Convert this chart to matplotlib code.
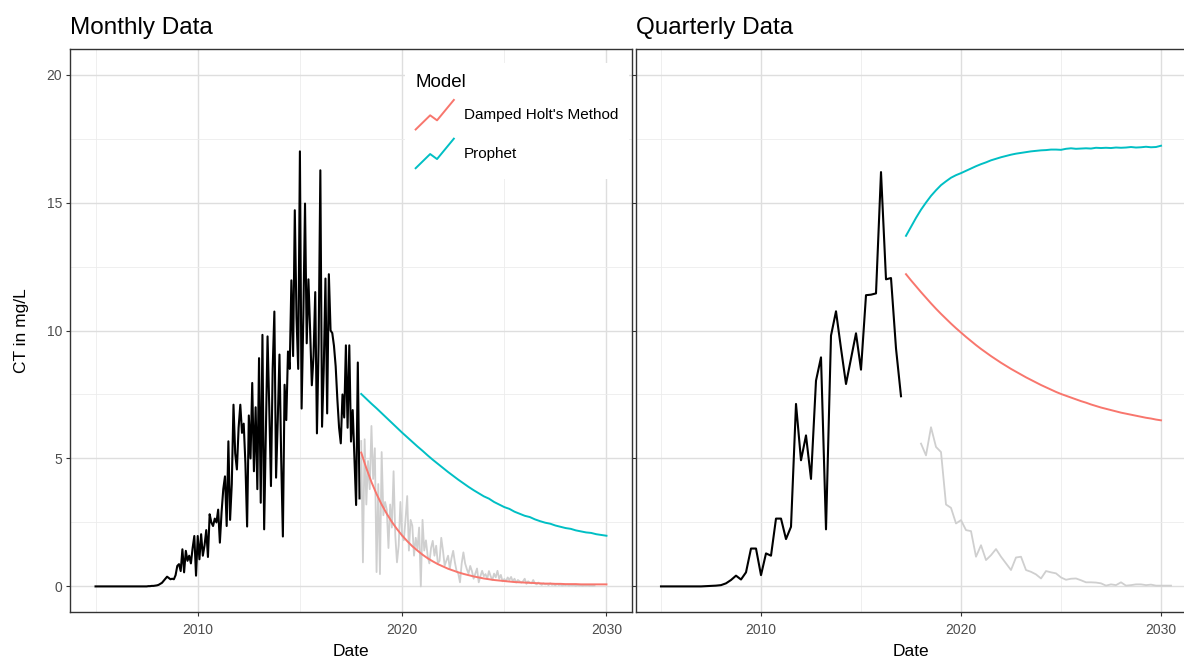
import numpy as np
import matplotlib
matplotlib.use('Agg')
import matplotlib.pyplot as plt
from matplotlib.lines import Line2D
from matplotlib.legend_handler import HandlerBase
from matplotlib.ticker import FixedLocator

plt.rcParams['font.family'] = ['Liberation Sans', 'DejaVu Sans']

# ---- monthly series (CT in mg/L), Jan 2005 .. Dec 2017 ----
monthly_ct = (
    [0.0] * 24
    + [0, 0, 0, 0, 0, 0, 0, 0.01, 0.01, 0.02, 0.02, 0.03]                      # 2007
    + [0.04, 0.06, 0.1, 0.14, 0.22, 0.3, 0.38, 0.33, 0.28, 0.3, 0.28, 0.44]    # 2008
    + [0.8, 0.87, 0.6, 1.45, 0.55, 1.39, 1.0, 1.2, 0.9, 1.5, 1.97, 0.42]       # 2009
    + [1.97, 1.06, 2.04, 1.2, 1.6, 2.2, 1.15, 2.82, 2.5, 2.36, 2.65, 2.5]      # 2010
    + [3.0, 1.71, 2.9, 3.8, 4.3, 2.36, 5.67, 2.6, 4.0, 7.1, 5.2, 4.57]         # 2011
    + [6.2, 7.1, 6.0, 6.36, 4.8, 2.34, 6.68, 5.0, 7.95, 4.5, 7.0, 3.8]         # 2012
    + [8.92, 3.27, 9.83, 2.23, 6.0, 9.77, 7.0, 3.92, 8.5, 10.74, 4.25, 6.5]    # 2013
    + [9.06, 5.0, 1.95, 7.88, 6.5, 9.18, 8.5, 11.96, 9.0, 14.7, 10.5, 8.5]     # 2014
    + [17.0, 6.95, 10.5, 14.96, 9.5, 12.0, 10.0, 7.86, 9.0, 11.5, 5.98, 9.5]   # 2015
    + [16.26, 6.24, 8.5, 12.03, 6.76, 12.2, 10.0, 9.9, 9.4, 8.6, 7.3, 6.2]     # 2016
    + [5.59, 7.5, 6.6, 9.42, 6.2, 9.42, 5.66, 6.89, 5.0, 3.18, 8.75, 3.44]     # 2017
)

# held-out monthly observations, from Jan 2018
monthly_test = (
    [5.68, 0.94, 5.75, 3.2, 4.9, 3.8, 6.27, 4.2, 5.4, 0.56, 4.0, 0.48]
    + [5.25, 2.78, 3.3, 3.0, 1.5, 3.2, 2.3, 4.5, 2.0, 0.94, 1.6, 3.3]
    + [2.0, 1.8, 2.6, 3.53, 1.4, 2.6, 2.37, 1.2, 1.9, 1.46, 2.3, 0.0]
    + [2.6, 1.4, 1.8, 1.2, 0.9, 1.5, 1.78, 1.2, 1.59, 0.9, 1.0, 1.9]
    + [1.4, 0.81, 1.0, 1.2, 0.7, 1.1, 1.39, 0.94, 0.6, 0.5, 0.16, 0.9]
    + [1.33, 0.9, 0.68, 0.5, 0.8, 0.6, 0.3, 0.5, 0.7, 0.16, 0.4, 0.61]
    + [0.4, 0.48, 0.3, 0.6, 0.4, 0.25, 0.5, 0.35, 0.61, 0.3, 0.45, 0.2]
    + [0.29, 0.2, 0.35, 0.25, 0.37, 0.2, 0.3, 0.15, 0.25, 0.2, 0.15, 0.2]
    + [0.3, 0.1, 0.2, 0.15, 0.12, 0.25, 0.12, 0.08, 0.15, 0.1, 0.06, 0.12]
    + [0.08, 0.1, 0.05, 0.12, 0.06, 0.08, 0.04, 0.1, 0.05, 0.07, 0.03, 0.06]
    + [0.05, 0.07, 0.03, 0.06, 0.04, 0.05, 0.02, 0.05, 0.03, 0.04, 0.02, 0.04]
    + [0.03, 0.04, 0.02, 0.03, 0.02, 0.03]
)

# monthly-model forecasts, quarterly steps from 2018.0 to 2030.0
monthly_holt = [5.23, 4.62, 4.08, 3.61, 3.20, 2.84, 2.52, 2.24, 1.99, 1.77,
                1.57, 1.40, 1.24, 1.10, 0.98, 0.87, 0.78, 0.69, 0.62, 0.55,
                0.49, 0.44, 0.39, 0.35, 0.31, 0.28, 0.25, 0.23, 0.21, 0.19,
                0.17, 0.16, 0.15, 0.14, 0.13, 0.12, 0.11, 0.11, 0.10, 0.10,
                0.09, 0.09, 0.09, 0.08, 0.08, 0.08, 0.08, 0.08, 0.08]
monthly_prophet = [7.52, 7.33, 7.14, 6.96, 6.77, 6.58, 6.39, 6.20, 6.01, 5.83,
                   5.65, 5.47, 5.30, 5.12, 4.95, 4.79, 4.63, 4.47, 4.32, 4.17,
                   4.03, 3.89, 3.76, 3.64, 3.52, 3.43, 3.30, 3.20, 3.10, 3.03,
                   2.92, 2.84, 2.76, 2.71, 2.62, 2.55, 2.49, 2.45, 2.38, 2.33,
                   2.28, 2.25, 2.19, 2.15, 2.11, 2.09, 2.04, 2.01, 1.98]

# ---- quarterly series, 2005 Q1 .. 2017 Q1 ----
quarterly_ct = [0, 0, 0, 0, 0, 0, 0, 0, 0, 0.01, 0.02, 0.03,
                0.05, 0.12, 0.25, 0.42, 0.27, 0.55, 1.48, 1.48,
                0.44, 1.29, 1.2, 2.65, 2.65, 1.85, 2.33, 7.13,
                4.93, 5.9, 4.2, 8.04, 8.95, 2.23, 9.8, 10.75,
                9.3, 7.91, 8.9, 9.89, 8.47, 11.38, 11.4, 11.45,
                16.19, 12.0, 12.05, 9.3, 7.43]

# held-out quarterly observations, 2018.0 .. 2030.5
quarterly_test = [5.58, 5.12, 6.22, 5.45, 5.25, 3.2, 3.07, 2.46, 2.59, 2.2,
                  2.16, 1.16, 1.61, 1.03, 1.22, 1.46, 1.16, 0.9, 0.64, 1.13,
                  1.16, 0.64, 0.57, 0.47, 0.31, 0.6, 0.55, 0.51, 0.35, 0.26,
                  0.3, 0.31, 0.24, 0.16, 0.16, 0.15, 0.12, 0.03, 0.08, 0.05,
                  0.16, 0.03, 0.05, 0.08, 0.08, 0.05, 0.07, 0.03, 0.03, 0.03,
                  0.03]

# quarterly-model forecasts, 2017.25 .. 2030.0
quarterly_holt = [12.20, 11.96, 11.73, 11.50, 11.28, 11.06, 10.85, 10.65, 10.46, 10.27,
                  10.09, 9.92, 9.75, 9.59, 9.43, 9.28, 9.14, 9.00, 8.87, 8.74,
                  8.62, 8.50, 8.39, 8.28, 8.17, 8.07, 7.97, 7.87, 7.78, 7.69,
                  7.60, 7.52, 7.45, 7.38, 7.31, 7.24, 7.18, 7.11, 7.05, 6.99,
                  6.94, 6.89, 6.84, 6.79, 6.75, 6.71, 6.67, 6.63, 6.59, 6.56,
                  6.52, 6.49]
quarterly_prophet = [13.70, 14.05, 14.40, 14.72, 15.00, 15.26, 15.48, 15.68, 15.83, 15.97,
                     16.07, 16.15, 16.24, 16.33, 16.42, 16.50, 16.57, 16.65, 16.71, 16.77,
                     16.82, 16.87, 16.91, 16.94, 16.97, 17.00, 17.02, 17.04, 17.05, 17.07,
                     17.07, 17.06, 17.10, 17.12, 17.10, 17.11, 17.12, 17.11, 17.14, 17.13,
                     17.14, 17.13, 17.15, 17.14, 17.15, 17.17, 17.15, 17.16, 17.18, 17.16,
                     17.17, 17.22]

MODELS = ["Damped Holt's Method", 'Prophet']
COLORS = {'Damped Holt\'s Method': '#F8766D', 'Prophet': '#00BFC4'}
TEST_COLOR = '#cfcfcf'


def years(start, n, step):
    return start + np.arange(n) * step


class ZigzagKey(HandlerBase):
    """Legend key drawn as a small zigzag, like a time-series glyph."""

    def create_artists(self, legend, orig_handle, xdescent, ydescent,
                       width, height, fontsize, trans):
        fx = np.array([0.0, 0.38, 0.56, 1.0])
        fy = np.array([0.0, 0.48, 0.31, 1.0])
        line = Line2D(fx * width - xdescent, fy * height - ydescent,
                      color=orig_handle.get_color(),
                      lw=orig_handle.get_linewidth())
        line.set_transform(trans)
        return [line]


def style_axis(ax, title):
    ax.set_xlim(2003.75, 2031.25)
    ax.set_ylim(-1, 21)
    ax.xaxis.set_major_locator(FixedLocator([2010, 2020, 2030]))
    ax.xaxis.set_minor_locator(FixedLocator([2005, 2015, 2025]))
    ax.yaxis.set_major_locator(FixedLocator([0, 5, 10, 15, 20]))
    ax.yaxis.set_minor_locator(FixedLocator([2.5, 7.5, 12.5, 17.5]))
    ax.set_xticklabels(['2010', '2020', '2030'])
    ax.grid(which='major', color='#dedede', lw=1.0)
    ax.grid(which='minor', color='#ececec', lw=0.6)
    ax.set_axisbelow(True)
    ax.tick_params(which='major', length=3, width=0.8, color='#333333',
                   labelsize=10, labelcolor='#4d4d4d', pad=2.5)
    ax.tick_params(axis='x', which='major', pad=5)
    ax.tick_params(which='minor', length=0)
    for sp in ax.spines.values():
        sp.set_color('#333333')
        sp.set_linewidth(1.0)
    ax.set_xlabel('Date', fontsize=12.5, labelpad=5)
    ax.set_title(title, loc='left', fontsize=17.5, pad=11)


fig = plt.figure(figsize=(11.84, 6.59), dpi=100)
ax_m = fig.add_axes([70 / 1184, 47 / 659, 562 / 1184, 563 / 659])
ax_q = fig.add_axes([636 / 1184, 47 / 659, 550 / 1184, 563 / 659])

# Monthly panel
t_mon = years(2005.0, len(monthly_ct), 1 / 12)
t_mon_test = years(2018.0, len(monthly_test), 1 / 12)
t_mon_fc = years(2018.0, len(monthly_holt), 0.25)
ax_m.plot(t_mon_test, monthly_test, color=TEST_COLOR, lw=1.3)
ax_m.plot(t_mon, monthly_ct, color='black', lw=1.5)
ax_m.plot(t_mon_fc, monthly_holt, color=COLORS[MODELS[0]], lw=1.4, label=MODELS[0])
ax_m.plot(t_mon_fc, monthly_prophet, color=COLORS[MODELS[1]], lw=1.4, label=MODELS[1])
style_axis(ax_m, 'Monthly Data')
ax_m.set_ylabel('CT in mg/L', fontsize=12.5, labelpad=13)

# Quarterly panel
t_q = years(2005.0, len(quarterly_ct), 0.25)
t_q_test = years(2018.0, len(quarterly_test), 0.25)
t_q_fc = years(2017.25, len(quarterly_holt), 0.25)
ax_q.plot(t_q_test, quarterly_test, color=TEST_COLOR, lw=1.3)
ax_q.plot(t_q, quarterly_ct, color='black', lw=1.5)
ax_q.plot(t_q_fc, quarterly_holt, color=COLORS[MODELS[0]], lw=1.4)
ax_q.plot(t_q_fc, quarterly_prophet, color=COLORS[MODELS[1]], lw=1.4)
style_axis(ax_q, 'Quarterly Data')
ax_q.tick_params(axis='y', labelleft=False)

handles = [Line2D([], [], color=COLORS[m], lw=1.4) for m in MODELS]
leg = ax_m.legend(handles, MODELS, title='Model', loc='upper left',
                  bbox_to_anchor=(0.596, 0.975), frameon=True, fancybox=False,
                  facecolor='white', edgecolor='none', framealpha=1.0,
                  fontsize=11, title_fontsize=13.5, handlelength=2.5,
                  handleheight=2.6, labelspacing=0.6, handletextpad=0.65,
                  borderpad=0.7, borderaxespad=0.0, alignment='left',
                  handler_map={Line2D: ZigzagKey()})

fig.savefig('out.png', dpi=100)
